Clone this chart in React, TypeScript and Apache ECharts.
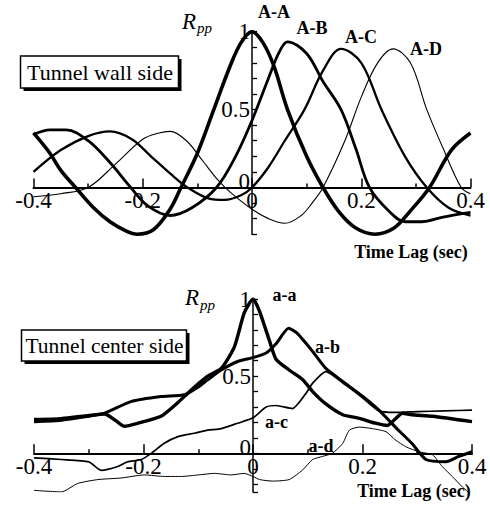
import React, { useEffect, useRef } from 'react';
import * as echarts from 'echarts';

// ---------- Top panel: Tunnel wall side ----------
const lagAA = [-0.4, -0.37, -0.35, -0.323, -0.29, -0.26, -0.23, -0.21, -0.18, -0.15, -0.13, -0.1, -0.07, -0.04, -0.02, 0, 0.02, 0.04, 0.065, 0.1, 0.13, 0.16, 0.19, 0.225, 0.26, 0.29, 0.325, 0.365, 0.4];
const rAA = [0.35, 0.22, 0.11, 0.0, -0.13, -0.22, -0.28, -0.3, -0.27, -0.14, 0.0, 0.22, 0.5, 0.78, 0.93, 1.0, 0.93, 0.78, 0.5, 0.2, 0.0, -0.16, -0.26, -0.3, -0.26, -0.15, 0.0, 0.24, 0.35];

const lagAB = [-0.4, -0.37, -0.34, -0.3, -0.26, -0.222, -0.19, -0.15, -0.11, -0.065, -0.03, 0, 0.03, 0.05, 0.065, 0.1, 0.13, 0.163, 0.19, 0.215, 0.25, 0.28, 0.31, 0.35, 0.4];
const rAB = [0.34, 0.37, 0.37, 0.3, 0.16, 0.0, -0.12, -0.18, -0.13, 0.0, 0.2, 0.43, 0.7, 0.87, 0.935, 0.86, 0.68, 0.5, 0.25, 0.0, -0.15, -0.22, -0.22, -0.19, -0.16];

const lagAC = [-0.4, -0.35, -0.3, -0.26, -0.22, -0.185, -0.15, -0.118, -0.08, -0.05, -0.02, 0, 0.03, 0.06, 0.096, 0.13, 0.163, 0.2, 0.237, 0.28, 0.32, 0.36, 0.4];
const rAC = [0.1, 0.24, 0.33, 0.36, 0.31, 0.2, 0.09, 0.0, -0.07, -0.08, -0.05, 0.0, 0.13, 0.3, 0.5, 0.75, 0.89, 0.8, 0.5, 0.2, 0.0, -0.13, -0.18];

const lagAD = [-0.4, -0.35, -0.3, -0.25, -0.2, -0.17, -0.15, -0.12, -0.09, -0.063, -0.04, 0, 0.03, 0.06, 0.09, 0.11, 0.13, 0.17, 0.2, 0.23, 0.258, 0.29, 0.32, 0.35, 0.383, 0.4];
const rAD = [-0.06, -0.04, 0.0, 0.15, 0.31, 0.35, 0.36, 0.3, 0.17, 0.05, -0.03, -0.14, -0.2, -0.23, -0.18, -0.1, 0.0, 0.3, 0.58, 0.8, 0.89, 0.8, 0.5, 0.25, 0.0, -0.04];

// ---------- Bottom panel: Tunnel center side ----------
const lagaa = [-0.4, -0.35, -0.3, -0.271, -0.25, -0.235, -0.21, -0.168, -0.14, -0.119, -0.1, -0.083, -0.058, -0.034, -0.016, 0, 0.012, 0.03, 0.042, 0.066, 0.09, 0.109, 0.133, 0.164, 0.194, 0.224, 0.245, 0.273, 0.29, 0.328, 0.4];
const raa = [0.22, 0.225, 0.245, 0.255, 0.21, 0.175, 0.195, 0.24, 0.32, 0.39, 0.45, 0.5, 0.55, 0.69, 0.91, 1.0, 0.92, 0.73, 0.61, 0.54, 0.48, 0.4, 0.32, 0.25, 0.227, 0.195, 0.18, 0.26, 0.25, 0.24, 0.205];

const lagab = [-0.4, -0.35, -0.3, -0.271, -0.223, -0.168, -0.125, -0.1, -0.083, -0.058, -0.028, 0, 0.024, 0.042, 0.065, 0.08, 0.109, 0.133, 0.17, 0.2, 0.23, 0.26, 0.29, 0.316, 0.352, 0.376, 0.4];
const rab = [0.205, 0.215, 0.24, 0.26, 0.335, 0.368, 0.38, 0.43, 0.476, 0.54, 0.595, 0.62, 0.65, 0.71, 0.81, 0.78, 0.66, 0.55, 0.45, 0.37, 0.28, 0.17, 0.065, -0.04, -0.055, -0.02, 0.01];

const lagac = [-0.4, -0.35, -0.3, -0.277, -0.247, -0.229, -0.204, -0.186, -0.162, -0.137, -0.107, -0.083, -0.058, -0.028, 0, 0.024, 0.042, 0.072, 0.097, 0.109, 0.133, 0.17, 0.2, 0.23, 0.26, 0.3, 0.35, 0.4];
const rac = [-0.03, -0.04, -0.055, -0.11, -0.085, -0.055, -0.04, 0.0, 0.065, 0.108, 0.13, 0.15, 0.16, 0.195, 0.23, 0.3, 0.31, 0.29, 0.39, 0.455, 0.53, 0.44, 0.36, 0.275, 0.265, 0.27, 0.275, 0.28];

const lagad = [-0.4, -0.35, -0.32, -0.283, -0.241, -0.198, -0.162, -0.131, -0.1, -0.07, -0.04, -0.016, 0, 0.012, 0.036, 0.066, 0.09, 0.109, 0.127, 0.145, 0.164, 0.176, 0.194, 0.218, 0.243, 0.26, 0.279, 0.303, 0.328, 0.346, 0.364, 0.383, 0.4];
const rad = [-0.24, -0.25, -0.195, -0.17, -0.16, -0.14, -0.15, -0.15, -0.14, -0.13, -0.14, -0.13, -0.15, -0.17, -0.18, -0.17, -0.11, -0.04, -0.02, 0.0, 0.065, 0.15, 0.17, 0.16, 0.14, 0.087, 0.043, 0.01, -0.01, -0.087, -0.15, -0.22, -0.27];

const topNames = ['A-A', 'A-B', 'A-C', 'A-D'];
const bottomNames = ['a-a', 'a-b', 'a-c', 'a-d'];
const panelTitles = ['Tunnel wall side', 'Tunnel center side'];
const axisTitle = 'Time Lag (sec)';

const lagRange = [-0.4, 0.4];
const topRange = [-0.3, 1];
const bottomRange = [-0.25, 1];

const pairs = (xs: number[], ys: number[]) => xs.map((x, i) => [x, ys[i]]);

const FONT = '"Liberation Serif", "Times New Roman", serif';

export default function App() {
  const ref = useRef<HTMLDivElement>(null);

  useEffect(() => {
    if (!ref.current) return;
    const chart = echarts.init(ref.current, null, { renderer: 'svg' });

    const grids = [
      { left: 33.5, top: 31.7, width: 437, height: 202.5 },
      { left: 34, top: 299, width: 438, height: 192.9 },
    ];
    const yRanges = [topRange, bottomRange];

    const xLabelFmt = (v: number) => {
      const r = Math.round(v * 10) / 10;
      return r === 0 ? '0' : String(r);
    };
    const yLabelFmt = (v: number) => {
      const r = Math.round(v * 10);
      if (Math.abs(v * 10 - r) > 1e-6) return '';
      if (r === 0) return '{z|0}';
      if (r === 5) return '0.5';
      if (r === 10) return '1';
      return '';
    };

    // offsets that put each axis through the other axis's zero
    const xOffset = (i: number) => {
      const [lo, hi] = yRanges[i];
      return -((0 - lo) / (hi - lo)) * grids[i].height;
    };
    const yOffset = (i: number) => {
      const [lo, hi] = lagRange;
      return -((0 - lo) / (hi - lo)) * grids[i].width;
    };

    const xAxis = (gridIndex: number) => ({
      type: 'value',
      gridIndex,
      position: 'bottom',
      offset: xOffset(gridIndex),
      min: lagRange[0],
      max: lagRange[1],
      interval: 0.2,
      axisLine: { onZero: false, lineStyle: { color: '#000', width: 2 } },
      axisTick: { show: true, inside: true, length: 9, lineStyle: { color: '#000', width: 1.5 } },
      minorTick: { show: true, splitNumber: 2, length: 4, lineStyle: { color: '#000', width: 1.5 } },
      axisLabel: { margin: 2, fontFamily: FONT, fontSize: 23, color: '#000', formatter: xLabelFmt },
      splitLine: { show: false },
      minorSplitLine: { show: false },
    });

    const yAxisCommon = {
      type: 'value',
      position: 'left',
      axisLine: { onZero: false, lineStyle: { color: '#000', width: 1.5 } },
      axisTick: { show: true, inside: true, length: 5, lineStyle: { color: '#000', width: 1.3 } },
      axisLabel: {
        margin: 2,
        fontFamily: FONT,
        fontSize: 23,
        color: '#000',
        formatter: yLabelFmt,
        showMinLabel: true,
        showMaxLabel: true,
        rich: { z: { fontFamily: FONT, fontSize: 23, color: '#000', padding: [0, 0, 12, 0] } },
      },
      splitLine: { show: false },
    };

    const line = (name: string, data: number[][], width: number, axis: number, smooth = 0.35) => ({
      name,
      type: 'line',
      xAxisIndex: axis,
      yAxisIndex: axis,
      data,
      showSymbol: false,
      symbol: 'none',
      smooth,
      lineStyle: { color: '#000', width },
      itemStyle: { color: '#000' },
      z: 3,
    });

    const text = (t: string, x: number, y: number, size: number, opts: any = {}) => ({
      type: 'text',
      x,
      y,
      z: 10,
      style: {
        text: t,
        fill: '#000',
        font: `${opts.italic ? 'italic ' : ''}${opts.bold ? 'bold ' : ''}${size}px ${FONT}`,
        align: opts.align || 'center',
        verticalAlign: 'middle',
      },
    });

    const box = (x: number, y: number, w: number, h: number) => [
      { type: 'rect', z: 9, shape: { x: x + 3, y: y + 3, width: w, height: h }, style: { fill: '#000' } },
      { type: 'rect', z: 9, shape: { x, y, width: w, height: h }, style: { fill: '#fff', stroke: '#000', lineWidth: 1.5 } },
    ];

    chart.setOption({
      animation: false,
      backgroundColor: '#fff',
      grid: grids,
      xAxis: [xAxis(0), xAxis(1)],
      yAxis: [
        { ...yAxisCommon, gridIndex: 0, offset: yOffset(0), min: topRange[0], max: topRange[1], interval: 0.1 },
        { ...yAxisCommon, gridIndex: 1, offset: yOffset(1), min: bottomRange[0], max: bottomRange[1], minInterval: 0.1, maxInterval: 0.1, splitNumber: 12 },
      ],
      series: [
        line(topNames[0], pairs(lagAA, rAA), 3.6, 0),
        line(topNames[1], pairs(lagAB, rAB), 2.8, 0),
        line(topNames[2], pairs(lagAC, rAC), 2.3, 0),
        line(topNames[3], pairs(lagAD, rAD), 1.1, 0),
        line(bottomNames[0], pairs(lagaa, raa), 3.4, 1, 0.2),
        line(bottomNames[1], pairs(lagab, rab), 3.0, 1, 0.2),
        line(bottomNames[2], pairs(lagac, rac), 1.7, 1, 0.2),
        line(bottomNames[3], pairs(lagad, rad), 1.0, 1, 0.2),
      ],
      graphic: [
        ...box(20.5, 56, 158, 32),
        text(panelTitles[0], 100, 72, 22),
        ...box(21.5, 330, 165, 31),
        text(panelTitles[1], 104.5, 345.5, 21.5),
        // R_pp labels
        text('R', 182, 21, 23, { italic: true, align: 'left' }),
        text('pp', 197, 28, 15, { italic: true, align: 'left' }),
        text('R', 185, 297, 23, { italic: true, align: 'left' }),
        text('pp', 200, 305, 15, { italic: true, align: 'left' }),
        // curve labels, top
        text(topNames[0], 274, 11.5, 18, { bold: true }),
        text(topNames[1], 312, 27.5, 18, { bold: true }),
        text(topNames[2], 361, 37, 18, { bold: true }),
        text(topNames[3], 426, 48.5, 18, { bold: true }),
        // curve labels, bottom
        text(bottomNames[0], 284.5, 295, 18, { bold: true }),
        text(bottomNames[1], 327.5, 346.5, 18, { bold: true }),
        text(bottomNames[2], 276.5, 421.5, 18, { bold: true }),
        text(bottomNames[3], 321, 445.5, 18, { bold: true }),
        // axis titles
        text(axisTitle, 411, 251.5, 18, { bold: true }),
        text(axisTitle, 414, 491, 18, { bold: true }),
      ],
    });

    return () => chart.dispose();
  }, []);

  return <div ref={ref} style={{ position: 'absolute', left: 0, top: 0, width: 490, height: 509 }} />;
}
